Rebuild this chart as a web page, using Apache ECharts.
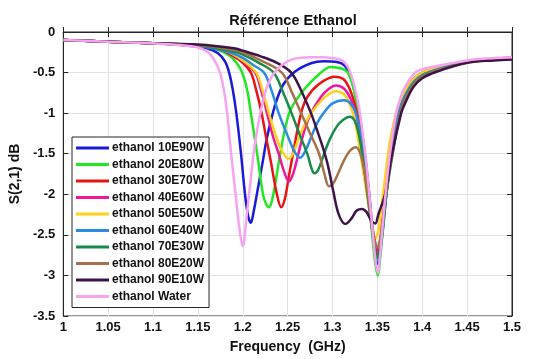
<!DOCTYPE html>
<html>
<head>
<meta charset="utf-8">
<script src="https://cdn.jsdelivr.net/npm/echarts@6/dist/echarts.min.js"></script>
<style>
  html, body { margin: 0; padding: 0; background: #fff; }
  #chart { width: 536px; height: 359px; }
</style>
</head>
<body>
<div id="chart"></div>
<script>
// S21 (dB) vs frequency (GHz)
const seriesNames = [
  'ethanol 10E90W', 'ethanol 20E80W', 'ethanol 30E70W', 'ethanol 40E60W', 'ethanol 50E50W',
  'ethanol 60E40W', 'ethanol 70E30W', 'ethanol 80E20W', 'ethanol 90E10W', 'ethanol Water'
];

const e10w90 = [
  [1.00,-0.10],[1.05,-0.12],[1.10,-0.14],[1.14,-0.17],[1.16,-0.20],[1.172,-0.26],[1.18,-0.36],
  [1.1848,-0.5],[1.189,-0.72],[1.1928,-1.0],[1.198,-1.5],[1.2025,-2.0],[1.206,-2.27],[1.209,-2.35],
  [1.212,-2.22],[1.216,-1.98],[1.2225,-1.58],[1.227,-1.3],[1.236,-0.9],[1.245,-0.65],[1.258,-0.49],
  [1.276,-0.385],[1.29,-0.36],[1.305,-0.37],[1.314,-0.42],[1.32,-0.55],[1.326,-0.8],[1.331,-1.1],
  [1.336,-1.5],[1.341,-2.0],[1.345,-2.5],[1.348,-2.78],[1.3505,-2.86],[1.353,-2.7],[1.356,-2.45],
  [1.36,-2.0],[1.3655,-1.5],[1.373,-1.0],[1.38,-0.74],[1.39,-0.58],[1.40,-0.5],[1.42,-0.43],
  [1.45,-0.36],[1.48,-0.33],[1.50,-0.32]
];
const e20w80 = [
  [1.00,-0.10],[1.05,-0.12],[1.10,-0.14],[1.15,-0.17],[1.17,-0.21],[1.185,-0.29],[1.193,-0.38],
  [1.1993,-0.5],[1.205,-0.72],[1.209,-1.0],[1.216,-1.5],[1.2225,-2.0],[1.226,-2.12],[1.229,-2.16],
  [1.232,-2.1],[1.236,-1.88],[1.2417,-1.5],[1.248,-1.15],[1.254,-0.94],[1.269,-0.7],[1.285,-0.52],
  [1.298,-0.43],[1.31,-0.45],[1.317,-0.5],[1.323,-0.68],[1.328,-0.95],[1.333,-1.3],[1.338,-1.75],
  [1.343,-2.35],[1.347,-2.8],[1.3505,-3.0],[1.353,-2.8],[1.356,-2.45],[1.36,-2.0],[1.366,-1.5],
  [1.374,-1.0],[1.38,-0.77],[1.39,-0.6],[1.40,-0.52],[1.42,-0.44],[1.45,-0.37],[1.48,-0.33],[1.50,-0.32]
];
const e30w70 = [
  [1.00,-0.10],[1.05,-0.12],[1.10,-0.14],[1.15,-0.17],[1.175,-0.22],[1.19,-0.3],[1.2,-0.38],
  [1.209,-0.5],[1.215,-0.72],[1.221,-1.0],[1.226,-1.3],[1.231,-1.58],[1.238,-2.0],[1.2428,-2.16],
  [1.247,-2.05],[1.251,-1.8],[1.256,-1.5],[1.265,-1.0],[1.272,-0.8],[1.285,-0.64],[1.302,-0.55],
  [1.312,-0.58],[1.319,-0.7],[1.325,-0.9],[1.331,-1.2],[1.336,-1.6],[1.341,-2.1],[1.345,-2.45],
  [1.3505,-2.7],[1.353,-2.6],[1.356,-2.35],[1.36,-1.95],[1.366,-1.45],[1.374,-1.0],[1.38,-0.78],
  [1.39,-0.6],[1.40,-0.52],[1.42,-0.44],[1.45,-0.37],[1.48,-0.33],[1.50,-0.32]
];
const e40w60 = [
  [1.00,-0.10],[1.05,-0.12],[1.10,-0.14],[1.15,-0.17],[1.18,-0.23],[1.2,-0.36],[1.2138,-0.5],
  [1.22,-0.7],[1.227,-1.0],[1.234,-1.3],[1.24,-1.5],[1.246,-1.72],[1.2514,-1.84],[1.256,-1.75],
  [1.262,-1.5],[1.269,-1.2],[1.276,-1.0],[1.287,-0.8],[1.296,-0.7],[1.304,-0.66],[1.313,-0.7],
  [1.32,-0.82],[1.326,-1.0],[1.332,-1.35],[1.337,-1.75],[1.342,-2.2],[1.346,-2.55],[1.3505,-2.74],
  [1.353,-2.6],[1.356,-2.3],[1.36,-1.9],[1.366,-1.4],[1.374,-0.98],[1.38,-0.76],[1.39,-0.59],
  [1.40,-0.51],[1.42,-0.43],[1.45,-0.36],[1.48,-0.33],[1.50,-0.31]
];
const e50w50 = [
  [1.00,-0.10],[1.05,-0.12],[1.10,-0.14],[1.15,-0.17],[1.18,-0.23],[1.2,-0.35],[1.215,-0.5],
  [1.222,-0.72],[1.229,-1.0],[1.236,-1.25],[1.243,-1.45],[1.2507,-1.56],[1.256,-1.5],[1.262,-1.32],
  [1.27,-1.12],[1.2775,-0.98],[1.292,-0.8],[1.304,-0.73],[1.312,-0.76],[1.318,-0.86],[1.324,-1.05],
  [1.329,-1.35],[1.334,-1.7],[1.339,-2.05],[1.344,-2.4],[1.3477,-2.54],[1.351,-2.45],[1.354,-2.2],
  [1.358,-1.85],[1.364,-1.35],[1.372,-0.95],[1.38,-0.74],[1.39,-0.58],[1.40,-0.5],[1.42,-0.43],
  [1.45,-0.36],[1.48,-0.33],[1.50,-0.32]
];
const e60w40 = [
  [1.00,-0.10],[1.05,-0.12],[1.10,-0.14],[1.15,-0.17],[1.185,-0.25],[1.2,-0.32],[1.212,-0.41],
  [1.2236,-0.5],[1.232,-0.72],[1.24,-1.0],[1.25,-1.28],[1.258,-1.48],[1.264,-1.55],[1.27,-1.46],
  [1.276,-1.3],[1.283,-1.12],[1.29,-1.0],[1.3,-0.88],[1.313,-0.84],[1.32,-0.88],[1.326,-1.0],
  [1.331,-1.25],[1.336,-1.65],[1.341,-2.1],[1.345,-2.5],[1.3505,-2.82],[1.353,-2.7],[1.356,-2.4],
  [1.36,-1.98],[1.366,-1.48],[1.374,-1.0],[1.38,-0.8],[1.39,-0.62],[1.40,-0.53],[1.42,-0.45],
  [1.45,-0.37],[1.48,-0.34],[1.50,-0.32]
];
const e70w30 = [
  [1.00,-0.10],[1.05,-0.12],[1.10,-0.14],[1.15,-0.165],[1.19,-0.24],[1.2,-0.28],[1.218,-0.38],
  [1.2344,-0.5],[1.244,-0.72],[1.2543,-1.0],[1.264,-1.28],[1.2725,-1.52],[1.276,-1.66],[1.2797,-1.74],
  [1.284,-1.7],[1.29,-1.52],[1.297,-1.32],[1.305,-1.16],[1.312,-1.08],[1.319,-1.045],[1.325,-1.1],
  [1.33,-1.3],[1.335,-1.65],[1.34,-2.1],[1.345,-2.5],[1.3505,-2.78],[1.353,-2.68],[1.356,-2.4],
  [1.36,-2.0],[1.367,-1.5],[1.375,-1.02],[1.38,-0.84],[1.39,-0.64],[1.40,-0.54],[1.42,-0.46],
  [1.45,-0.37],[1.48,-0.34],[1.50,-0.33]
];
const e80w20 = [
  [1.00,-0.10],[1.05,-0.12],[1.10,-0.14],[1.15,-0.16],[1.19,-0.22],[1.2,-0.25],[1.22,-0.35],
  [1.2435,-0.5],[1.255,-0.75],[1.265,-1.0],[1.275,-1.25],[1.285,-1.5],[1.291,-1.75],[1.296,-1.9],
  [1.3,-1.88],[1.306,-1.75],[1.312,-1.6],[1.319,-1.47],[1.326,-1.42],[1.331,-1.5],[1.336,-1.75],
  [1.34,-2.05],[1.345,-2.45],[1.3505,-2.66],[1.353,-2.55],[1.356,-2.3],[1.36,-1.95],[1.367,-1.48],
  [1.375,-1.02],[1.38,-0.85],[1.39,-0.65],[1.40,-0.55],[1.42,-0.46],[1.45,-0.38],[1.48,-0.34],[1.50,-0.33]
];
const e90w10 = [
  [1.00,-0.10],[1.05,-0.12],[1.10,-0.14],[1.15,-0.155],[1.19,-0.2],[1.2,-0.23],[1.22,-0.3],
  [1.238,-0.38],[1.254,-0.5],[1.265,-0.72],[1.276,-1.0],[1.284,-1.25],[1.29,-1.45],[1.295,-1.65],
  [1.3008,-1.96],[1.307,-2.25],[1.3144,-2.365],[1.321,-2.3],[1.327,-2.2],[1.3332,-2.18],[1.338,-2.22],
  [1.343,-2.32],[1.3477,-2.36],[1.351,-2.25],[1.3585,-2.0],[1.3664,-1.5],[1.3765,-1.0],[1.38,-0.9],
  [1.39,-0.68],[1.40,-0.57],[1.416,-0.49],[1.45,-0.38],[1.48,-0.35],[1.50,-0.34]
];
const water = [
  [1.00,-0.10],[1.05,-0.12],[1.10,-0.14],[1.13,-0.16],[1.15,-0.19],[1.16,-0.24],[1.167,-0.32],
  [1.1746,-0.5],[1.179,-0.72],[1.1826,-1.0],[1.187,-1.5],[1.192,-2.0],[1.196,-2.4],[1.2,-2.64],
  [1.204,-2.3],[1.208,-1.9],[1.212,-1.5],[1.217,-1.15],[1.2254,-0.73],[1.236,-0.49],[1.2543,-0.34],
  [1.276,-0.31],[1.29,-0.31],[1.305,-0.33],[1.312,-0.36],[1.318,-0.45],[1.324,-0.65],[1.329,-0.9],
  [1.333,-1.2],[1.337,-1.55],[1.341,-2.0],[1.345,-2.5],[1.348,-2.82],[1.3505,-2.97],[1.353,-2.75],
  [1.355,-2.5],[1.359,-2.0],[1.364,-1.5],[1.371,-1.0],[1.38,-0.69],[1.392,-0.5],[1.40,-0.46],
  [1.416,-0.42],[1.45,-0.35],[1.48,-0.32],[1.50,-0.31]
];

const allData = [e10w90, e20w80, e30w70, e40w60, e50w50, e60w40, e70w30, e80w20, e90w10, water];
const lineColors = ['#1a1ad8', '#22e622', '#e81313', '#f0189a', '#ffd11a',
                    '#2a8be0', '#1a8a4a', '#a6714a', '#3d1449', '#f7a3ef'];

const chart = echarts.init(document.getElementById('chart'));
const fontFamily = '"Liberation Sans", Arial, sans-serif';
const ink = '#262626';

const tickStyle = { show: true, inside: true, length: 5, lineStyle: { color: ink } };

const option = {
  animation: false,
  backgroundColor: '#fff',
  title: {
    text: 'Référence Ethanol',
    left: 288, top: 8, textAlign: 'center',
    textStyle: { fontFamily, fontSize: 14.5, fontWeight: 'bold', color: '#111' }
  },
  grid: { left: 62, right: 24, top: 32, bottom: 36, show: true, borderColor: ink, borderWidth: 1 },
  legend: {
    orient: 'vertical', left: 72, top: 137,
    data: seriesNames,
    icon: 'rect', itemWidth: 33, itemHeight: 3, itemGap: 2.5,
    backgroundColor: '#fff', borderColor: ink, borderWidth: 1, padding: [4, 5, 4, 4],
    textStyle: { fontFamily, fontSize: 12, fontWeight: 'bold', color: '#111', lineHeight: 14, padding: [0, 0, 0, -2] }
  },
  xAxis: [{
    type: 'value', min: 1, max: 1.5, interval: 0.05,
    name: 'Frequency  (GHz)', nameLocation: 'middle', nameGap: 24,
    nameTextStyle: { fontFamily, fontSize: 14, fontWeight: 'bold', color: '#111' },
    axisLine: { show: true, lineStyle: { color: ink } },
    axisTick: tickStyle,
    axisLabel: { fontFamily, fontSize: 13, fontWeight: 'bold', color: '#111', margin: 5 },
    splitLine: { show: true, lineStyle: { color: '#e3e3e3' } }
  }, {
    type: 'value', min: 1, max: 1.5, interval: 0.05, position: 'top',
    axisLine: { show: true, lineStyle: { color: ink } },
    axisTick: tickStyle, axisLabel: { show: false }, splitLine: { show: false }
  }],
  yAxis: [{
    type: 'value', min: -3.5, max: 0, interval: 0.5,
    name: 'S(2,1) dB', nameLocation: 'middle', nameGap: 27,
    nameTextStyle: { fontFamily, fontSize: 14, fontWeight: 'bold', color: '#111' },
    axisLine: { show: true, lineStyle: { color: ink } },
    axisTick: tickStyle,
    axisLabel: { fontFamily, fontSize: 13, fontWeight: 'bold', color: '#111', margin: 8 },
    splitLine: { show: true, lineStyle: { color: '#e3e3e3' } }
  }, {
    type: 'value', min: -3.5, max: 0, interval: 0.5, position: 'right',
    axisLine: { show: true, lineStyle: { color: ink } },
    axisTick: tickStyle, axisLabel: { show: false }, splitLine: { show: false }
  }],
  series: allData.map((d, i) => ({
    name: seriesNames[i],
    type: 'line',
    data: d,
    xAxisIndex: 0, yAxisIndex: 0,
    smooth: 0.35,
    showSymbol: false,
    symbol: 'none',
    itemStyle: { color: lineColors[i] },
    lineStyle: { width: 2.5, color: lineColors[i] }
  }))
};

chart.setOption(option);
</script>
</body>
</html>
